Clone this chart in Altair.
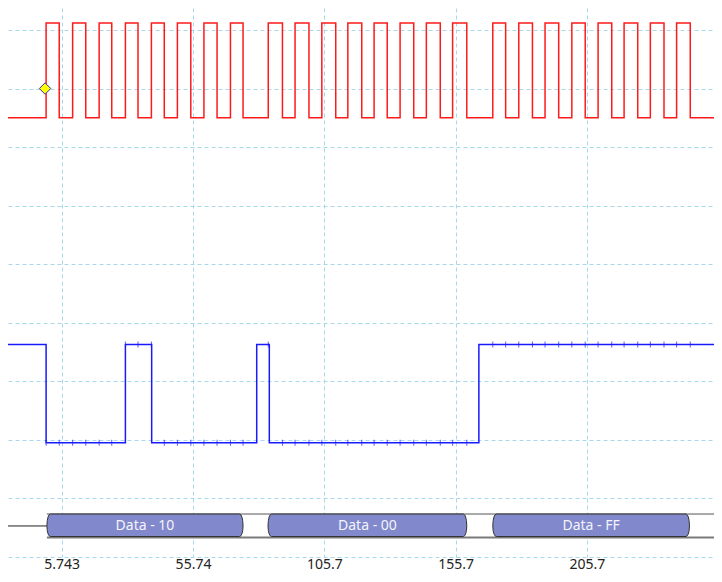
import altair as alt
import pandas as pd

# ---------------- data ----------------
# time axis (x) tick values and horizontal grid divisions (y)
x_ticks = [5.743, 55.743, 105.743, 155.743, 205.743, 255.743]
y_grid = [0, 1, 2, 3, 4, 5, 6, 7, 8, 9]

# visible window
t_min, t_max = -14.71, 254.14
y_min, y_max = 0.0, 9.375

# clock (red) edges
clk_rise = [-0.2, 9.9, 20.0, 30.0, 39.9, 49.8, 59.9, 70.0,
            84.4, 94.6, 104.8, 114.7, 124.7, 134.6, 144.6, 154.6,
            169.9, 179.8, 189.8, 200.0, 210.0, 219.9, 229.9, 239.9]
clk_fall = [4.8, 14.9, 24.8, 34.8, 44.8, 54.9, 64.9, 74.8,
            89.8, 99.9, 110.1, 120.0, 129.7, 139.8, 149.9, 160.0,
            174.8, 185.0, 195.0, 205.1, 215.2, 225.1, 235.1, 245.1]
clk_low, clk_high = 7.50, 9.12

# data (blue) transitions
dat_t = [t_min, -0.2, 30.0, 40.0, 80.0, 84.8, 164.6, t_max]
dat_state = [1, 0, 1, 0, 1, 0, 1, 1]
dat_low, dat_high = 1.95, 3.63

# bus decode
bus_start = [0.1, 84.3, 169.9]
bus_end = [74.8, 160.0, 244.8]
bus_text = ["Data - 10", "Data - 00", "Data - FF"]
bus_mid, bus_top, bus_fill_bot, bus_bot = 0.53, 0.734, 0.35, 0.333

# trigger marker
trig_t, trig_level = -0.6, 8.0

# ---------------- tables ----------------
ev = sorted([(t, clk_high) for t in clk_rise] + [(t, clk_low) for t in clk_fall])
clk_df = pd.DataFrame([(t_min, clk_low)] + ev + [(t_max, clk_low)], columns=["t", "v"])

dat_df = pd.DataFrame({"t": dat_t,
                       "v": [dat_high if s else dat_low for s in dat_state]})

edges = sorted(clk_rise + clk_fall)
glitch_df = pd.DataFrame({
    "t": edges,
    "v": [dat_high if any(a <= e < b and s for a, b, s in zip(dat_t[:-1], dat_t[1:], dat_state[:-1]))
          else dat_low for e in edges]})

# bus hexagon-ish shapes (curved ends)
d = 1.3
h_top = bus_top - bus_mid
h_bot = bus_mid - bus_fill_bot
fr = [0.0, 0.45, 0.75, 0.92, 1.0]
rows = []
for i, (s, e) in enumerate(zip(bus_start, bus_end)):
    left = [(s + d * (1 - (1 - f * f) ** 0.5), f) for f in fr]
    right = [(e - d * (1 - (1 - f * f) ** 0.5), f) for f in reversed(fr)]
    for x, f in left + right:
        rows.append({"box": i, "t": x,
                     "yt": bus_mid + f * h_top, "yb": bus_mid - f * h_bot})
bus_df = pd.DataFrame(rows)
text_df = pd.DataFrame({"t": [(s + e) / 2 for s, e in zip(bus_start, bus_end)],
                        "y": [bus_mid] * 3, "label": bus_text})
lead_df = pd.DataFrame({"t": [t_min, bus_start[0]], "y": [bus_mid, bus_mid]})
frame_df = pd.DataFrame({"t": [bus_start[0], t_max],
                         "top": [bus_top, bus_top], "bot": [bus_bot, bus_bot]})
trig_df = pd.DataFrame({"t": [trig_t], "y": [trig_level]})

# ---------------- chart ----------------
X = alt.X("t:Q", scale=alt.Scale(domain=[t_min, t_max], nice=False, zero=False),
          axis=alt.Axis(values=x_ticks, format=".4", title=None, grid=True,
                        gridDash=[4, 3], gridColor="#A8D9EA", gridWidth=1,
                        domain=False, ticks=False, tickSize=0, labelPadding=0,
                        labelFontSize=14, labelColor="#222222", labelFont="Noto Sans",
                        labelOverlap=False, labelFlush=False))
Yscale = alt.Scale(domain=[y_min, y_max], nice=False, zero=False)
Yaxis = alt.Axis(values=y_grid, title=None, labels=False, ticks=False, domain=False,
                 grid=True, gridDash=[4, 3], gridColor="#A8D9EA", gridWidth=1)

base_grid = alt.Chart(clk_df).mark_line(opacity=0).encode(
    x=X, y=alt.Y("v:Q", scale=Yscale, axis=Yaxis))

clk = alt.Chart(clk_df).mark_line(interpolate="step-after", color="#FF1A1A",
                                  strokeWidth=1.5, clip=True).encode(
    x="t:Q", y="v:Q")

dat = alt.Chart(dat_df).mark_line(interpolate="step-after", color="#1A1AFF",
                                  strokeWidth=1.5, clip=True).encode(
    x="t:Q", y="v:Q")

glitch = alt.Chart(glitch_df).mark_tick(orient="vertical", color="#1A1AFF",
                                        size=6, thickness=1).encode(
    x="t:Q", y="v:Q")

lead = alt.Chart(lead_df).mark_line(color="#222222", strokeWidth=1).encode(
    x="t:Q", y="y:Q")

frame_top = alt.Chart(frame_df).mark_line(color="#555555", strokeWidth=1, clip=True).encode(
    x="t:Q", y="top:Q")
frame_bot = alt.Chart(frame_df).mark_line(color="#7A7A7A", strokeWidth=2, clip=True).encode(
    x="t:Q", y="bot:Q")

box_layers = [
    alt.Chart(bus_df).transform_filter(alt.datum.box == i).mark_area(
        fill="#8189CC", stroke="#333333", strokeWidth=1, fillOpacity=1,
        interpolate="linear").encode(x="t:Q", y="yt:Q", y2="yb:Q")
    for i in range(len(bus_start))
]

labels = alt.Chart(text_df).mark_text(color="#F4F4FA", fontSize=14, font="Noto Sans",
                                      baseline="middle", align="center").encode(
    x="t:Q", y="y:Q", text="label:N")

trig = alt.Chart(trig_df).mark_point(shape="diamond", filled=True, fill="#FFFF00",
                                     stroke="#3333AA", strokeWidth=1, size=130,
                                     opacity=1).encode(x="t:Q", y="y:Q")

chart = alt.layer(base_grid, clk, dat, glitch, lead, frame_top, frame_bot,
                  *box_layers, labels, trig).properties(
    width=706, height=549,
    background="white",
    autosize=alt.AutoSizeParams(type="none"),
    padding={"left": 0, "top": 0, "right": 0, "bottom": 17},
).configure_view(strokeWidth=0)

chart.save("out.html", embed_options={"renderer": "svg", "actions": False})
